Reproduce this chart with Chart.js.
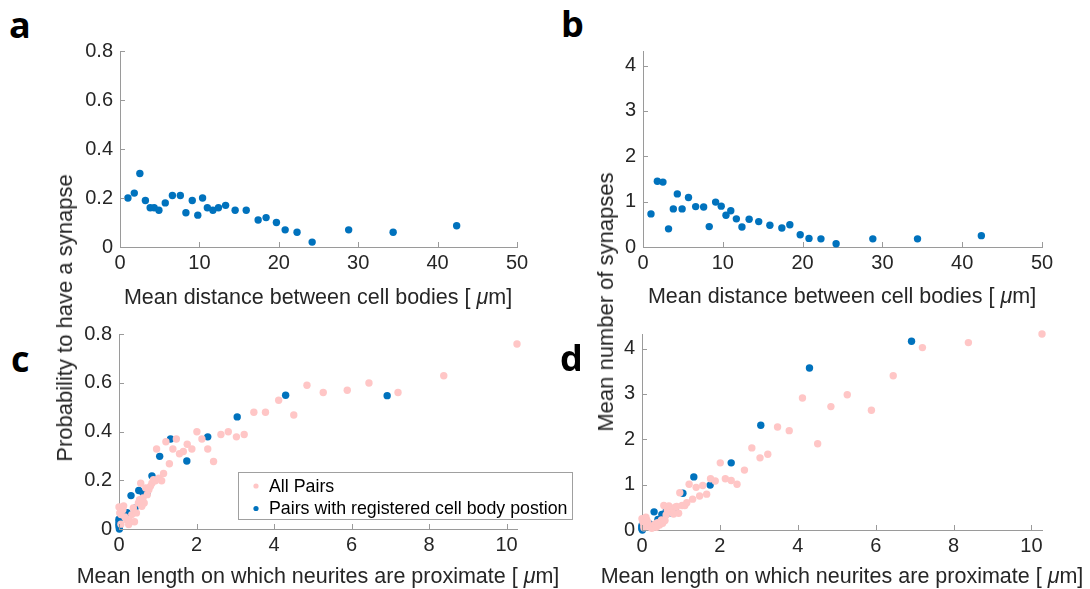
<!DOCTYPE html>
<html>
<head>
<meta charset="utf-8">
<script src="https://cdn.jsdelivr.net/npm/chart.js@4.4.0/dist/chart.umd.min.js"></script>
<style>
  body { margin: 0; background: #fff; width: 1090px; height: 589px; position: relative; overflow: hidden;
         font-family: "Liberation Sans", Arial, sans-serif; color: #262626; }
  canvas { position: absolute; }
  .title { position: absolute; white-space: nowrap; font-size: 21.5px; transform: translate(-50%, -50%); }
  .ylab { font-size: 22px; transform: translate(-50%, -50%) rotate(-90deg); }
  .letter { position: absolute; font-family: "Open Sans", sans-serif; font-weight: 700; font-size: 36px; color: #000; line-height: 1; }
</style>
</head>
<body>
<canvas id="ca" width="500" height="260" style="left:60px;top:30px"></canvas>
<canvas id="cb" width="480" height="260" style="left:600px;top:30px"></canvas>
<canvas id="cc" width="520" height="270" style="left:60px;top:315px"></canvas>
<canvas id="cd" width="480" height="270" style="left:600px;top:315px"></canvas>

<div class="letter" style="left:9px;top:7px">a</div>
<div class="letter" style="left:561px;top:6px">b</div>
<div class="letter" style="left:11px;top:341px">c</div>
<div class="letter" style="left:560px;top:340px">d</div>

<div class="title" style="left:318px;top:297px">Mean distance between cell bodies [ <i>μ</i>m]</div>
<div class="title" style="left:842px;top:296px">Mean distance between cell bodies [ <i>μ</i>m]</div>
<div class="title" style="left:318px;top:576px">Mean length on which neurites are proximate [ <i>μ</i>m]</div>
<div class="title" style="left:842px;top:576px">Mean length on which neurites are proximate [ <i>μ</i>m]</div>
<div class="title ylab" style="left:65px;top:318px">Probability to have a synapse</div>
<div class="title ylab" style="left:606px;top:302px">Mean number of synapses</div>

<script>
// panels a, b: pairs with registered cell body position, binned by distance
const distance = [1.0, 1.8, 2.5, 3.2, 3.8, 4.3, 4.9, 5.7, 6.6, 7.6, 8.3, 9.1, 9.8, 10.4, 11.0,
  11.7, 12.4, 13.3, 14.5, 15.9, 17.4, 18.4, 19.7, 20.8, 22.3, 24.2, 28.8, 34.4, 42.4];
const probByDistance = [0.20, 0.22, 0.30, 0.19, 0.16, 0.16, 0.15, 0.18, 0.21, 0.21, 0.14, 0.19, 0.13, 0.20, 0.16,
  0.15, 0.16, 0.17, 0.15, 0.15, 0.11, 0.12, 0.10, 0.07, 0.06, 0.02, 0.07, 0.06, 0.087];
const numByDistance = [0.73, 1.45, 1.43, 0.40, 0.84, 1.17, 0.84, 1.09, 0.89, 0.88, 0.45, 0.99, 0.90, 0.70, 0.80,
  0.62, 0.44, 0.61, 0.56, 0.48, 0.42, 0.49, 0.27, 0.19, 0.18, 0.07, 0.18, 0.18, 0.25];

// panels c, d: all pairs
const proxAll = [0.00, 0.02, 0.05, 0.05, 0.10, 0.12, 0.15, 0.20, 0.25, 0.29, 0.33, 0.37, 0.40, 0.45, 0.50,
  0.53, 0.56, 0.59, 0.62, 0.65, 0.69, 0.73, 0.77, 0.81, 0.85, 0.89, 0.94, 0.97, 1.03, 1.10,
  1.15, 1.21, 1.30, 1.39, 1.48, 1.56, 1.66, 1.76, 1.88, 2.01, 2.14, 2.29, 2.44, 2.63, 2.82,
  3.03, 3.23, 3.48, 3.78, 4.12, 4.51, 4.85, 5.27, 5.89, 6.45, 7.20, 8.38, 10.27];
const probAll = [0.090, 0.066, 0.059, 0.020, 0.079, 0.095, 0.049, 0.038, 0.018, 0.031, 0.059, 0.086, 0.030, 0.066, 0.107,
  0.120, 0.188, 0.093, 0.127, 0.107, 0.168, 0.141, 0.161, 0.175, 0.188, 0.202, 0.198, 0.328, 0.208, 0.198,
  0.228, 0.358, 0.268, 0.328, 0.369, 0.309, 0.318, 0.348, 0.328, 0.399, 0.369, 0.328, 0.277, 0.388, 0.399,
  0.378, 0.388, 0.479, 0.479, 0.528, 0.468, 0.590, 0.560, 0.569, 0.599, 0.560, 0.629, 0.759];
const numAll = [0.25, 0.18, 0.10, 0.05, 0.28, 0.22, 0.17, 0.07, 0.04, 0.09, 0.13, 0.06, 0.16, 0.11, 0.22,
  0.15, 0.54, 0.21, 0.33, 0.44, 0.53, 0.44, 0.38, 0.35, 0.50, 0.52, 0.37, 0.82, 0.54, 0.54,
  0.60, 1.01, 0.68, 0.94, 0.75, 0.98, 0.79, 1.13, 1.08, 1.48, 1.13, 1.09, 1.01, 1.32, 1.81,
  1.59, 1.67, 2.27, 2.19, 2.91, 1.90, 2.72, 2.98, 2.64, 3.40, 4.02, 4.13, 4.32];

// panels c, d: pairs with registered cell body position
const proxReg = [0.00, 0.00, 0.00, 0.00, 0.01, 0.09, 0.21, 0.31, 0.41, 0.51, 0.62, 0.73, 0.85, 1.05, 1.33,
  1.75, 2.29, 3.05, 4.30, 6.92];
const probReg = [0.040, 0.030, 0.020, 0.010, 0.000, 0.076, 0.067, 0.137, 0.085, 0.158, 0.148, 0.148, 0.218, 0.298, 0.369,
  0.279, 0.378, 0.460, 0.549, 0.547];
const numReg = [0.10, 0.07, 0.04, 0.02, 0.00, 0.23, 0.13, 0.40, 0.235, 0.34, 0.41, 0.38, 0.455, 0.81, 1.17,
  0.99, 1.48, 2.31, 3.57, 4.16];

const legendLabels = ['All Pairs', 'Pairs with registered cell body postion'];

const BLUE = '#0072BD';
const PINK = '#FFC6C6';
const AXIS = '#9a9a9a';
const TXT = '#262626';

function pts(xs, ys) {
  return xs.map((x, i) => ({ x: x, y: ys[i] }));
}

// MATLAB style inward ticks
const tickMarks = {
  id: 'tickMarks',
  afterDraw(chart) {
    const ctx = chart.ctx;
    const a = chart.chartArea;
    const xs = chart.scales.x, ys = chart.scales.y;
    ctx.save();
    ctx.strokeStyle = AXIS;
    ctx.lineWidth = 1;
    ctx.beginPath();
    xs.ticks.forEach(t => {
      const px = Math.round(xs.getPixelForValue(t.value)) + 0.5;
      ctx.moveTo(px, a.bottom);
      ctx.lineTo(px, a.bottom - 5);
    });
    ys.ticks.forEach(t => {
      const py = Math.round(ys.getPixelForValue(t.value)) + 0.5;
      ctx.moveTo(a.left, py);
      ctx.lineTo(a.left + 5, py);
    });
    ctx.stroke();
    ctx.restore();
  }
};

// boxed legend like the matlab one
const boxLegend = {
  id: 'boxLegend',
  afterDraw(chart, args, opts) {
    if (!opts.show) return;
    const ctx = chart.ctx;
    const b = opts.box;
    ctx.save();
    ctx.fillStyle = '#fff';
    ctx.fillRect(b.x, b.y, b.w, b.h);
    ctx.strokeStyle = '#a0a0a0';
    ctx.lineWidth = 1;
    ctx.strokeRect(b.x + 0.5, b.y + 0.5, b.w, b.h);
    ctx.font = '17.8px "Liberation Sans", Arial, sans-serif';
    ctx.textBaseline = 'middle';
    chart.data.datasets.forEach((ds, i) => {
      const y = b.y + 14 + i * 22.5;
      ctx.fillStyle = ds.backgroundColor;
      ctx.beginPath();
      ctx.arc(b.x + 18, y, 2.6, 0, Math.PI * 2);
      ctx.fill();
      ctx.fillStyle = '#000';
      ctx.fillText(ds.label, b.x + 31, y + 1);
    });
    ctx.restore();
  }
};

function makePanel(id, canvasBox, area, xCfg, yCfg, datasets, legend) {
  const padTop = area.top - canvasBox.top;
  const padRight = canvasBox.left + canvasBox.width - area.right;
  const yWidth = area.left - canvasBox.left;
  const xHeight = canvasBox.top + canvasBox.height - area.bottom;
  const tickFont = { family: '"Liberation Sans", Arial, sans-serif', size: 20 };
  new Chart(document.getElementById(id), {
    type: 'scatter',
    data: { datasets: datasets },
    options: {
      responsive: false,
      animation: false,
      devicePixelRatio: 1,
      layout: { padding: { top: padTop, right: padRight, left: 0, bottom: 0 } },
      plugins: {
        legend: { display: false },
        tooltip: { enabled: false },
        boxLegend: legend || { show: false }
      },
      scales: {
        x: {
          type: 'linear', min: xCfg.min, max: xCfg.max,
          grid: { display: false, drawTicks: false },
          border: { display: true, color: AXIS, width: 1 },
          ticks: { stepSize: xCfg.step, includeBounds: false, color: TXT, font: tickFont, padding: 4, maxRotation: 0 },
          afterFit(s) { s.height = xHeight; }
        },
        y: {
          type: 'linear', min: yCfg.min, max: yCfg.max,
          grid: { display: false, drawTicks: false },
          border: { display: true, color: AXIS, width: 1 },
          ticks: { stepSize: yCfg.step, includeBounds: false, color: TXT, font: tickFont, padding: 7 },
          afterFit(s) { s.width = yWidth; }
        }
      }
    },
    plugins: [tickMarks, boxLegend]
  });
}

function dotSet(label, data, color) {
  return { label: label, data: data, backgroundColor: color, borderWidth: 0, pointRadius: 3.7, clip: false };
}

makePanel('ca', { left: 60, top: 30, width: 500, height: 260 },
  { left: 120, top: 51, right: 517, bottom: 247 },
  { min: 0, max: 50, step: 10 }, { min: 0, max: 0.8, step: 0.2 },
  [dotSet(legendLabels[1], pts(distance, probByDistance), BLUE)]);

makePanel('cb', { left: 600, top: 30, width: 480, height: 260 },
  { left: 643, top: 51, right: 1042, bottom: 247 },
  { min: 0, max: 50, step: 10 }, { min: 0, max: 4.32, step: 1 },
  [dotSet(legendLabels[1], pts(distance, numByDistance), BLUE)]);

makePanel('cc', { left: 60, top: 315, width: 520, height: 270 },
  { left: 119, top: 334, right: 517, bottom: 529 },
  { min: 0, max: 10.27, step: 2 }, { min: 0, max: 0.8, step: 0.2 },
  [dotSet(legendLabels[0], pts(proxAll, probAll), PINK),
   dotSet(legendLabels[1], pts(proxReg, probReg), BLUE)],
  { show: true, box: { x: 178, y: 157, w: 334, h: 47 } });

makePanel('cd', { left: 600, top: 315, width: 480, height: 270 },
  { left: 642, top: 334, right: 1042, bottom: 530 },
  { min: 0, max: 10.27, step: 2 }, { min: 0, max: 4.32, step: 1 },
  [dotSet(legendLabels[0], pts(proxAll, numAll), PINK),
   dotSet(legendLabels[1], pts(proxReg, numReg), BLUE)]);
</script>
</body>
</html>
